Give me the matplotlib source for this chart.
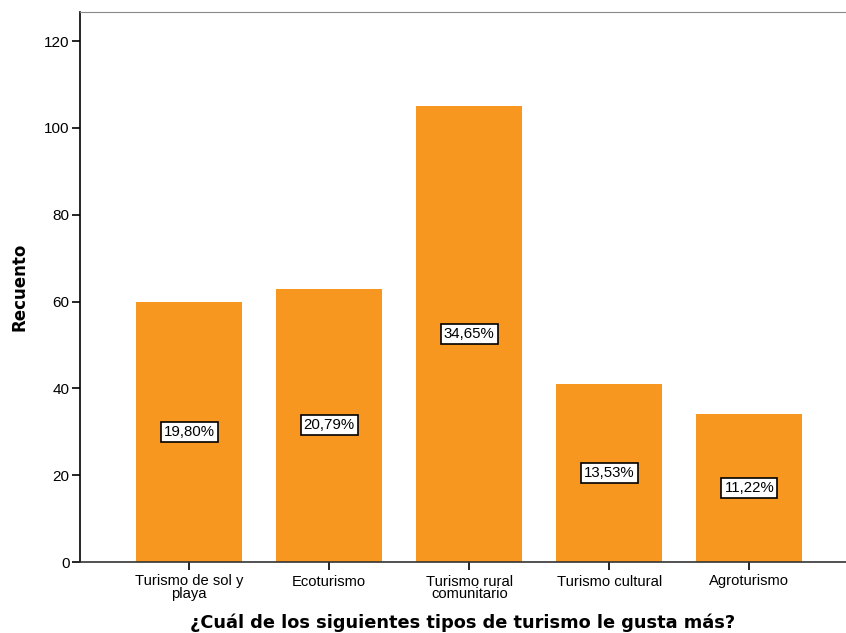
import matplotlib
matplotlib.use("Agg")
import matplotlib.pyplot as plt

categories = ["Turismo de sol y\nplaya", "Ecoturismo", "Turismo rural\ncomunitario",
              "Turismo cultural", "Agroturismo"]
counts = [60, 63, 105, 41, 34]
pct_labels = ["19,80%", "20,79%", "34,65%", "13,53%", "11,22%"]
yticks = [0, 20, 40, 60, 80, 100, 120]

plt.rcParams['font.family'] = ['Liberation Sans', 'DejaVu Sans']

fig = plt.figure(figsize=(8.46, 6.33), dpi=100)
ax = fig.add_axes([80/846, 1-562/633, (846-80)/846, (562-12)/633])

x = list(range(len(categories)))
bars = ax.bar(x, counts, width=0.757, color='#F7971F', edgecolor='none')

for xi, c, lab in zip(x, counts, pct_labels):
    ax.text(xi, c/2, lab, ha='center', va='center', fontsize=10.8,
            bbox=dict(boxstyle='square,pad=0.2', fc='white', ec='black', lw=1.2))

ax.set_xlim(-0.78, 4.69)
ax.set_ylim(0, 126.7)
ax.set_yticks(yticks)
ax.set_xticks(x)
ax.set_xticklabels(categories, fontsize=10.6, linespacing=0.82)
ax.tick_params(axis='y', labelsize=11, length=6, width=1.2, direction='out', pad=1.5)
ax.tick_params(axis='x', length=6, width=1.2, direction='out', pad=3)

ax.spines['right'].set_visible(False)
ax.spines['top'].set_color('#888888')
ax.spines['left'].set_linewidth(1.2)
ax.spines['bottom'].set_linewidth(1.2)
ax.spines['bottom'].set_color('#333333')

ax.set_ylabel("Recuento", fontsize=12, fontweight='bold', labelpad=11,
              family=['DejaVu Sans'])
ax.set_xlabel("¿Cuál de los siguientes tipos de turismo le gusta más?",
              fontsize=12.8, fontweight='bold', labelpad=9, family=['DejaVu Sans'])

fig.savefig("out.png", dpi=100)
